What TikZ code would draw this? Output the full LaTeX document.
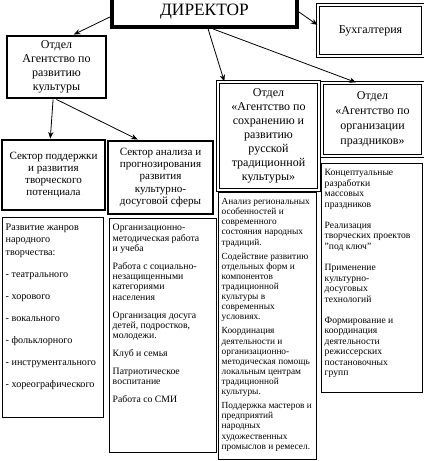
\documentclass[tikz,border=0pt]{standalone}
\usepackage{fontspec}
\setmainfont{Liberation Serif}
\usetikzlibrary{arrows.meta, positioning}

\begin{document}
\begin{tikzpicture}[
  x=0.75pt, y=-0.75pt,
  head/.style={draw, line width=3pt, minimum width=138.75pt, minimum height=22.5pt,
               font=\fontsize{13}{15}\selectfont},
  dept/.style={draw, line width=2.2pt, align=center, inner sep=1pt,
               font=\fontsize{9}{10.5}\selectfont},
  dbl/.style={draw, double, double distance=0.8pt, line width=0.9pt, align=center,
              inner sep=1pt, font=\fontsize{9}{10.5}\selectfont},
  sector/.style={draw, line width=2.2pt, align=center, inner sep=1pt,
                 minimum width=77.25pt, font=\fontsize{8.3}{9.2}\selectfont},
  items/.style={draw, line width=0.6pt, anchor=north west, inner xsep=2.5pt,
                inner ysep=4.5pt},
  arr/.style={-{Stealth[length=5pt, width=4pt]}, line width=0.6pt},
]
  \clip (0,0) rectangle (424,461);

  % top level
  \node[head] (dir) at (204.5,12) {ДИРЕКТОР};
  \node[dbl, minimum width=78.75pt, minimum height=38.25pt] (buh) at (370.5,30.5) {Бухгалтерия};

  % departments
  \node[dept, minimum width=74.25pt, minimum height=46.5pt] (o1) at (56.5,67)
    {Отдел\\ Агентство по\\ развитию\\ культуры};
  \node[dbl, minimum width=75.75pt, minimum height=81pt] (o2) at (268.5,136)
    {Отдел\\ «Агентство по\\ сохранению и\\ развитию\\ русской\\ традиционной\\ культуры»};
  \node[dbl, minimum width=75.75pt, minimum height=54.75pt, font=\fontsize{9}{11.2}\selectfont]
    (o3) at (372.5,119.5) {Отдел\\ «Агентство по\\ организации\\ праздников»};

  % sectors
  \node[sector, minimum height=52.5pt] (s1) at (53.5,175)
    {Сектор поддержки\\ и развития\\ творческого\\ потенциала};
  \node[sector, minimum width=78.75pt, minimum height=54.75pt] (s2) at (160.5,177.5)
    {Сектор анализа и\\ прогнозирования\\ развития\\ культурно-\\ досуговой сферы};

  % task lists
  \node[items, font=\fontsize{7.6}{9.4}\selectfont] (l1) at (2,217)
    {\parbox[t][141pt][t]{71pt}{\raggedright
     Развитие жанров\\ народного\\ творчества:\\[7.1pt]
     - театрального\\[7.1pt] - хорового\\[7.1pt] - вокального\\[7.1pt]
     - фольклорного\\[7.1pt] - инструментального\\[7.1pt] - хореографического}};
  \node[items, font=\fontsize{7.3}{7.7}\selectfont] (l2) at (109,218)
    {\parbox[t][166.5pt][t]{75pt}{\raggedright
     Организационно-\\ методическая работа\\ и учеба\\[5.8pt]
     Работа с социально-\\ незащищенными\\ категориями\\ населения\\[5.8pt]
     Организация досуга\\ детей, подростков,\\ молодежи.\\[5.8pt]
     Клуб и семья\\[5.8pt]
     Патриотическое\\ воспитание\\[5.8pt]
     Работа со СМИ}};
  \node[items, font=\fontsize{7}{7.6}\selectfont] (l3) at (218,192)
    {\parbox[t][191.25pt][t]{68.5pt}{\raggedright
     Анализ региональных\\ особенностей и\\ современного\\ состояния народных\\ традиций.\\[2.9pt]
     Содействие развитию\\ отдельных форм и\\ компонентов\\ традиционной\\ культуры в\\ современных\\ условиях.\\[2.9pt]
     Координация\\ деятельности и\\ организационно-\\ методическая помощь\\ локальным центрам\\ традиционной\\ культуры.\\[2.9pt]
     Поддержка мастеров и\\ предприятий\\ народных\\ художественных\\ промыслов и ремесел.}};
  \node[items, font=\fontsize{7.2}{7.9}\selectfont] (l4) at (321,163)
    {\parbox[t][162.75pt][t]{70.75pt}{\raggedright
     Концептуальные\\ разработки\\ массовых\\ праздников\\[7.9pt]
     Реализация\\ творческих проектов\\ "под ключ"\\[7.9pt]
     Применение\\ культурно-\\ досуговых\\ технологий\\[7.9pt]
     Формирование и\\ координация\\ деятельности\\ режиссерских\\ постановочных\\ групп}};

  % connectors
  \draw[arr] (dir.183) -- (o1.62);
  \draw[arr] (dir.east) -- (buh.174);
  \draw[arr] (dir.282) -- (o2.129);
  \draw[arr] (dir.297) -- (o3.114);
  \draw[arr] (o1.264) -- (s1.95);
  \draw[arr] (o1.south) -- (s2.121);
\end{tikzpicture}
\end{document}
